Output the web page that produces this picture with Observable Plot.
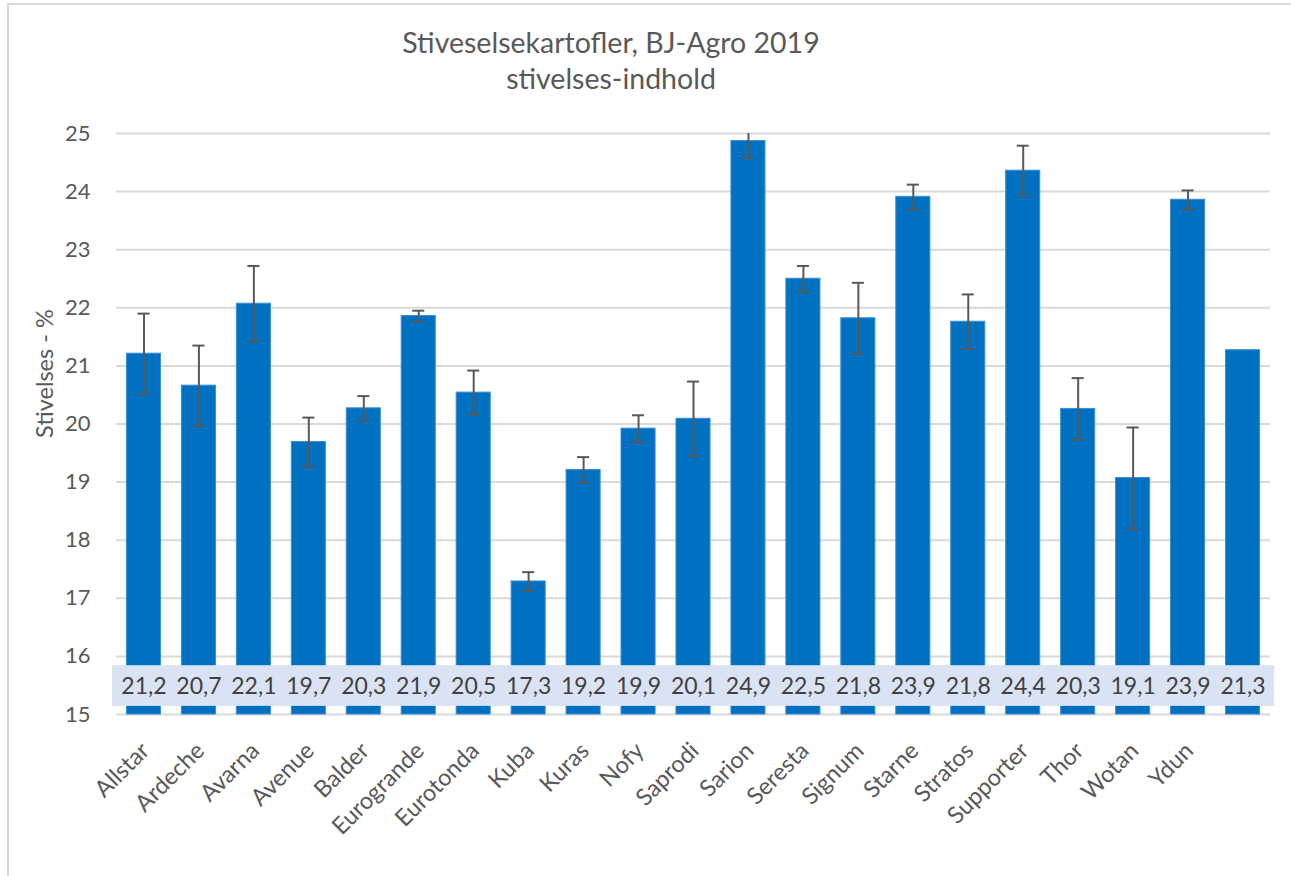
<!DOCTYPE html>
<html>
<head>
<meta charset="utf-8">
<script src="https://cdn.jsdelivr.net/npm/d3@7"></script>
<script src="https://cdn.jsdelivr.net/npm/@observablehq/plot@0.6"></script>
<style>
  html, body { margin: 0; padding: 0; background: #fff; }
  #wrap { position: relative; width: 1291px; height: 876px; overflow: hidden; font-family: Lato, sans-serif; }
  #border { position: absolute; left: 7px; top: 3px; width: 1400px; height: 1000px; border: 2px solid #d9d9d9; box-sizing: border-box; }
  .title { position: absolute; left: 311px; width: 600px; text-align: center; color: #595959; font-size: 28.5px; line-height: 1; white-space: nowrap; }
  #chart { position: absolute; left: 0; top: 0; }
</style>
</head>
<body>
<div id="wrap">
  <div id="border"></div>
  <div class="title" style="top:28px">Stiveselsekartofler, BJ-Agro 2019</div>
  <div class="title" style="top:64px">stivelses-indhold</div>
  <div id="chart"></div>
</div>
<script>
const names = ["Allstar","Ardeche","Avarna","Avenue","Balder","Eurogrande","Eurotonda","Kuba","Kuras","Nofy","Saprodi","Sarion","Seresta","Signum","Starne","Stratos","Supporter","Thor","Wotan","Ydun"," "];
const values = [21.21,20.66,22.07,19.69,20.27,21.86,20.54,17.29,19.21,19.92,20.09,24.87,22.50,21.82,23.91,21.76,24.36,20.26,19.07,23.86,21.27];
const errors = [0.69,0.69,0.65,0.42,0.21,0.09,0.38,0.16,0.22,0.23,0.64,0.29,0.22,0.61,0.21,0.47,0.43,0.53,0.87,0.16,null];
const yTicks = [15,16,17,18,19,20,21,22,23,24,25];

const data = names.map((n, i) => ({name: n, value: values[i], err: errors[i]}));
const errData = data.filter(d => d.err != null);
const fmt = v => v.toFixed(1).replace(".", ",");

const chart = Plot.plot({
  width: 1291,
  height: 876,
  marginLeft: 116,
  marginRight: 21,
  marginTop: 133,
  marginBottom: 162,
  style: {fontFamily: "Lato, sans-serif", background: "transparent", color: "#595959"},
  x: {domain: names, paddingInner: 0.38, paddingOuter: 0.19, round: false, axis: null},
  y: {domain: [15, 25]},
  marks: [
    Plot.gridY(yTicks, {stroke: "#d9d9d9", strokeOpacity: 1, strokeWidth: 2}),
    Plot.barY(data, {x: "name", y1: () => 15, y2: "value", fill: "#0070c0", stroke: "#3a8fd8", strokeWidth: 1}),
    Plot.ruleX(errData, {x: "name", y1: d => d.value - d.err, y2: d => d.value + d.err, stroke: "#595959", strokeWidth: 2, clip: true}),
    Plot.tickY(errData, {x: "name", y: d => d.value + d.err, stroke: "#595959", strokeWidth: 2, inset: 11, clip: true}),
    Plot.tickY(errData, {x: "name", y: d => d.value - d.err, stroke: "#595959", strokeWidth: 2, inset: 11, clip: true}),
    Plot.barY(data, {x: "name", y1: () => 15.14, y2: () => 15.84, fill: "#dae3f3", insetLeft: -14.5, insetRight: -14.5}),
    Plot.text(data, {x: "name", y: () => 15.48, text: d => fmt(d.value), fill: "#404040", fontSize: 23}),
    Plot.axisY(yTicks, {tickSize: 0, tickPadding: 26, fontSize: 22, fill: "#595959", tickFormat: d => String(d), label: null}),
    Plot.text(["Stivelses - %"], {frameAnchor: "left", dx: -71, dy: 14, rotate: -90, fontSize: 23.5, fill: "#595959"}),
    Plot.text(names, {x: d => d, text: d => d, frameAnchor: "bottom", dy: 26, dx: -5, rotate: -45, textAnchor: "end", lineAnchor: "top", fontSize: 23.5, fill: "#595959"})
  ]
});
document.getElementById("chart").appendChild(chart);
</script>
</body>
</html>
